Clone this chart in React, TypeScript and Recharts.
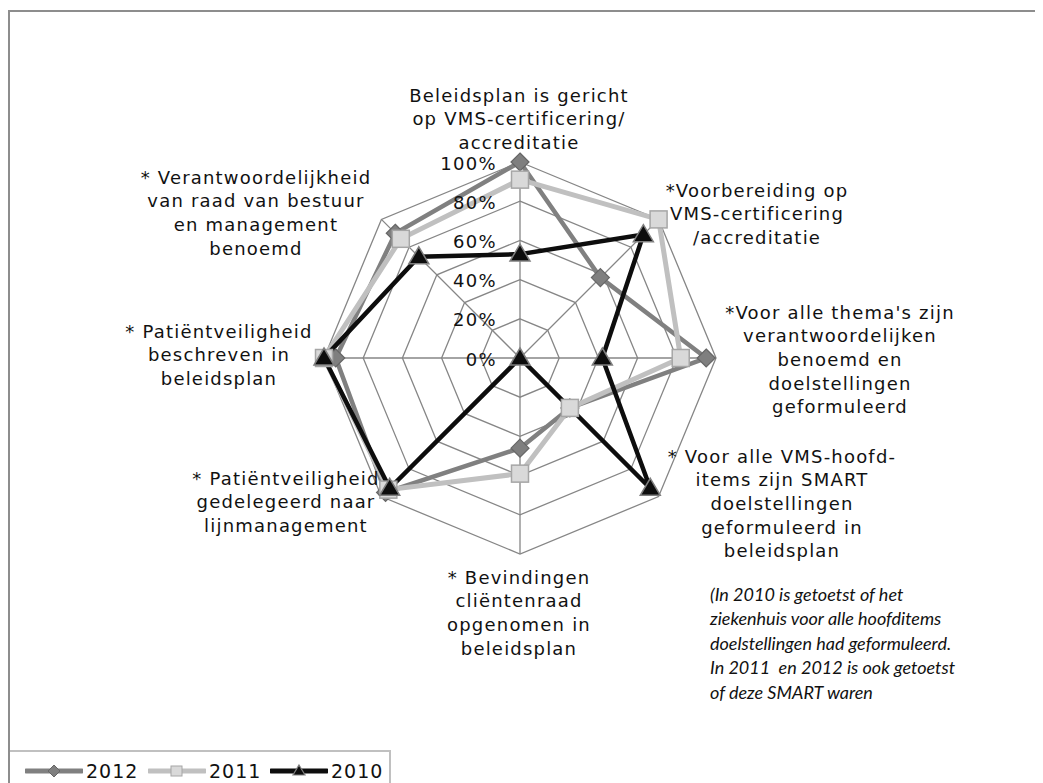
import { RadarChart, PolarGrid, PolarAngleAxis, PolarRadiusAxis, Radar } from 'recharts'

const categories = [
  'Beleidsplan is gericht op VMS-certificering/accreditatie',
  '*Voorbereiding op VMS-certificering/accreditatie',
  "*Voor alle thema's zijn verantwoordelijken benoemd en doelstellingen geformuleerd",
  '* Voor alle VMS-hoofditems zijn SMART doelstellingen geformuleerd in beleidsplan',
  '* Bevindingen cliëntenraad opgenomen in beleidsplan',
  '* Patiëntveiligheid gedelegeerd naar lijnmanagement',
  '* Patiëntveiligheid beschreven in beleidsplan',
  '* Verantwoordelijkheid van raad van bestuur en management benoemd',
]

// wrapped label lines, as in the picture
const labelLines = [
  ['Beleidsplan is gericht', 'op VMS-certificering/', 'accreditatie'],
  ['*Voorbereiding op', 'VMS-certificering', '/accreditatie'],
  ["*Voor alle thema's zijn", 'verantwoordelijken', 'benoemd en', 'doelstellingen', 'geformuleerd'],
  ['* Voor alle VMS-hoofd-', 'items zijn SMART', 'doelstellingen', 'geformuleerd in', 'beleidsplan'],
  ['* Bevindingen', 'cliëntenraad', 'opgenomen in', 'beleidsplan'],
  ['* Patiëntveiligheid', 'gedelegeerd naar', 'lijnmanagement'],
  ['* Patiëntveiligheid', 'beschreven in', 'beleidsplan'],
  ['* Verantwoordelijkheid', 'van raad van bestuur', 'en management', 'benoemd'],
]

const values2012 = [100, 58, 95, 36, 46, 97, 94, 90]
const values2011 = [91, 100, 82, 36, 59, 95, 100, 86]
const values2010 = [53, 89, 42, 94, 0, 94, 100, 73]

const noteLines = [
  '(In 2010 is getoetst of het',
  'ziekenhuis voor alle hoofditems',
  'doelstellingen had geformuleerd.',
  'In 2011  en 2012 is ook getoetst',
  'of deze SMART waren',
]

// label block centres (first line) inside the chart box
const labelPos = [
  { x: 511, y: 87 },
  { x: 749, y: 182 },
  { x: 832, y: 304 },
  { x: 774, y: 448 },
  { x: 511, y: 569 },
  { x: 278, y: 470 },
  { x: 211, y: 323 },
  { x: 248, y: 169 },
]

const data = categories.map((c, i) => ({
  category: c,
  y2012: values2012[i],
  y2011: values2011[i],
  y2010: values2010[i],
}))

const FONT = '"DejaVu Sans", sans-serif'

function AngleTick(props: any) {
  const i = props.payload?.index ?? props.index
  const lines = labelLines[i]
  const p = labelPos[i]
  if (!lines || !p) return null
  return (
    <text x={p.x} y={p.y} textAnchor="middle" fontFamily={FONT} fontSize={18} letterSpacing={1.2} fill="#111">
      {lines.map((l, k) => (
        <tspan key={k} x={p.x} y={p.y + k * 23.7} dominantBaseline="central">
          {l}
        </tspan>
      ))}
    </text>
  )
}

function RadiusTick(props: any) {
  const { x, y, payload } = props
  return (
    <text x={x - 23} y={y + 1} textAnchor="end" dominantBaseline="central" fontFamily={FONT} fontSize={18} letterSpacing={1.3} fill="#111">
      {payload.value + '%'}
    </text>
  )
}

function Diamond({ cx, cy }: any) {
  if (cx == null) return null
  const r = 9
  return <path d={`M${cx},${cy - r}L${cx + r},${cy}L${cx},${cy + r}L${cx - r},${cy}Z`} fill="#7f7f7f" stroke="#666" strokeWidth={1.2} />
}

function Square({ cx, cy }: any) {
  if (cx == null) return null
  const s = 8.5
  return <rect x={cx - s} y={cy - s} width={2 * s} height={2 * s} fill="#d9d9d9" stroke="#a6a6a6" strokeWidth={1.5} />
}

function Triangle({ cx, cy }: any) {
  if (cx == null) return null
  return <path d={`M${cx},${cy - 10}L${cx + 10},${cy + 7}L${cx - 10},${cy + 7}Z`} fill="#0d0d0d" stroke="#7f7f7f" strokeWidth={1.5} />
}

function LegendItem({ left, color, width, marker, label }: any) {
  return (
    <div style={{ position: 'absolute', left, top: 8, display: 'flex', alignItems: 'center' }}>
      <svg width={58} height={20}>
        <line x1={1} y1={10} x2={57} y2={10} stroke={color} strokeWidth={width} strokeLinecap="round" />
        {marker}
      </svg>
      <span style={{ fontFamily: FONT, fontSize: 19, letterSpacing: 1, marginLeft: 3, color: '#111' }}>{label}</span>
    </div>
  )
}

export default function App() {
  return (
    <div style={{ position: 'relative', width: 1035, height: 775, overflow: 'hidden', background: '#fff' }}>
      <div style={{ position: 'absolute', left: 0, top: 2, width: 1100, height: 900, borderLeft: '2px solid #8d8d8d', borderTop: '2px solid #8d8d8d' }} />
      <div style={{ position: 'absolute', left: 0, top: 0 }}>
        <RadarChart width={1035} height={740} data={data} cx={512} cy={350} outerRadius={196} startAngle={90} endAngle={-270}>
          <PolarGrid gridType="polygon" stroke="#868686" strokeWidth={1.3} />
          <PolarAngleAxis dataKey="category" tick={<AngleTick />} tickLine={false} axisLine={false} />
          <PolarRadiusAxis angle={90} domain={[0, 100]} tickCount={6} axisLine={false} tick={<RadiusTick />} />
          <Radar dataKey="y2012" stroke="#808080" strokeWidth={4.5} fill="none" fillOpacity={0} dot={<Diamond />} isAnimationActive={false} />
          <Radar dataKey="y2011" stroke="#c0c0c0" strokeWidth={5} fill="none" fillOpacity={0} dot={<Square />} isAnimationActive={false} />
          <Radar dataKey="y2010" stroke="#0d0d0d" strokeWidth={4.5} fill="none" fillOpacity={0} dot={<Triangle />} isAnimationActive={false} />
        </RadarChart>
      </div>
      <div style={{ position: 'absolute', left: 702, top: 574, fontFamily: 'Lato, "Open Sans", sans-serif', fontStyle: 'italic', fontSize: 18, lineHeight: '24.4px', color: '#111', whiteSpace: 'pre' }}>
        {noteLines.map((l, i) => (
          <div key={i}>{l}</div>
        ))}
      </div>
      <div style={{ position: 'absolute', left: 2, top: 742, width: 379, height: 100, borderTop: '2px solid #c0c0c0', borderRight: '2px solid #c0c0c0', background: '#fff' }}>
        <LegendItem left={15} color="#808080" width={5} label="2012"
          marker={<path d="M29,4L35,10L29,16L23,10Z" fill="#7f7f7f" stroke="#666" strokeWidth={1} />} />
        <LegendItem left={138} color="#c0c0c0" width={5} label="2011"
          marker={<rect x={23} y={5} width={11} height={10} fill="#d9d9d9" stroke="#a6a6a6" strokeWidth={1} />} />
        <LegendItem left={260} color="#0d0d0d" width={5} label="2010"
          marker={<path d="M29,4L35,14L23,14Z" fill="#0d0d0d" stroke="#7f7f7f" strokeWidth={1.2} />} />
      </div>
    </div>
  )
}
